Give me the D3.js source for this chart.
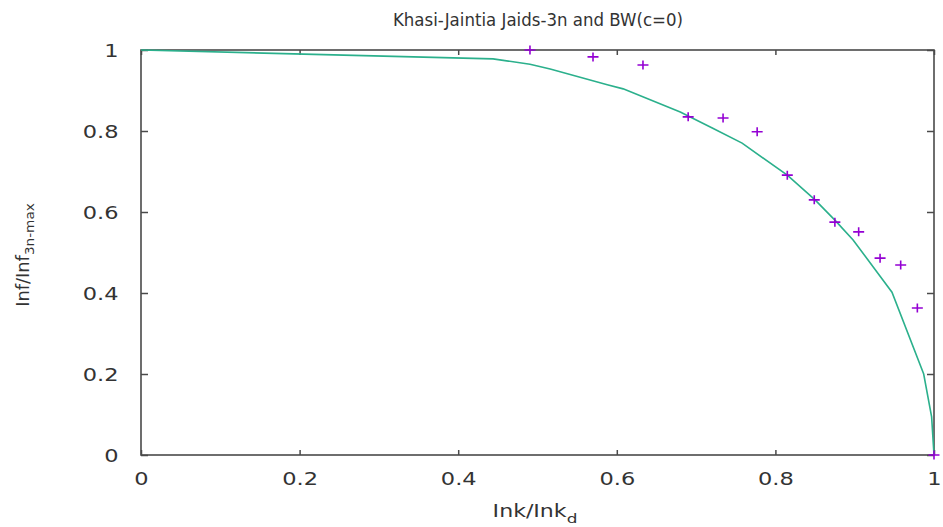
<!DOCTYPE html>
<html>
<head>
<meta charset="utf-8">
<script src="https://cdn.jsdelivr.net/npm/d3@7"></script>
<style>
  body { margin: 0; background: #fff; }
  text { font-family: "DejaVu Sans", sans-serif; fill: #333; }
</style>
</head>
<body>
<div id="chart"></div>
<script>
// curve (BW, c=0)
const lineX = [0, 0.444, 0.4905, 0.516, 0.588, 0.608, 0.680, 0.721, 0.758, 0.815, 0.850, 0.875, 0.898, 0.947, 0.987, 0.997, 1.0];
const lineY = [1, 0.978, 0.965, 0.953, 0.914, 0.904, 0.847, 0.807, 0.770, 0.691, 0.630, 0.580, 0.531, 0.402, 0.200, 0.094, 0.0];

// Jaids-3n points
const ptX = [0.4905, 0.570, 0.633, 0.690, 0.734, 0.777, 0.815, 0.849, 0.875, 0.905, 0.932, 0.958, 0.979, 1.0];
const ptY = [1.0, 0.983, 0.963, 0.835, 0.832, 0.798, 0.691, 0.630, 0.575, 0.551, 0.486, 0.469, 0.363, 0.0];

const xTicks = [0, 0.2, 0.4, 0.6, 0.8, 1];
const yTicks = [0, 0.2, 0.4, 0.6, 0.8, 1];

// set the dimensions and margins of the graph
const margin = {top: 50, right: 9, bottom: 72, left: 141},
    width = 943 - margin.left - margin.right,
    height = 527 - margin.top - margin.bottom;

const svgRoot = d3.select("#chart")
    .append("svg")
    .attr("width", 943)
    .attr("height", 527);

const svg = svgRoot.append("g")
    .attr("transform", `translate(${margin.left},${margin.top})`);

const x = d3.scaleLinear().domain([0, 1]).range([0, width]);
const y = d3.scaleLinear().domain([0, 1]).range([height, 0]);

const fmt = d => String(d);
const axisCol = "#4a4a4a";

// axes (ticks point inward, mirrored on top/right)
const xAxis = svg.append("g")
    .attr("transform", `translate(0,${height})`)
    .call(d3.axisBottom(x).tickValues(xTicks).tickSize(-5).tickPadding(17).tickFormat(fmt));
const xTop = svg.append("g")
    .call(d3.axisTop(x).tickValues(xTicks).tickSize(-5).tickFormat(""));
const yAxis = svg.append("g")
    .call(d3.axisLeft(y).tickValues(yTicks).tickSize(-7).tickPadding(20).tickFormat(fmt));
const yRight = svg.append("g")
    .attr("transform", `translate(${width},0)`)
    .call(d3.axisRight(y).tickValues(yTicks).tickSize(-7).tickFormat(""));

[xAxis, xTop, yAxis, yRight].forEach(a => {
  a.select(".domain").remove();
  a.selectAll("line").attr("stroke", axisCol).attr("stroke-width", 1.5);
  a.selectAll("text")
    .style("font-size", "18px")
    .attr("fill", "#3a3a3a");
});
xAxis.selectAll("text").attr("transform", "scale(1.25,1)");
yAxis.selectAll("text").attr("transform", "scale(1.25,1)").attr("x", -18).attr("dy", "0.36em");

// border
svg.append("rect")
    .attr("x", 0).attr("y", 0)
    .attr("width", width).attr("height", height)
    .attr("fill", "none")
    .attr("stroke", axisCol)
    .attr("stroke-width", 1.6);

// the line
const lineData = lineX.map((v, i) => ({x: v, y: lineY[i]}));
const line = d3.line().x(d => x(d.x)).y(d => y(d.y));
svg.append("path")
    .datum(lineData)
    .attr("d", line)
    .attr("fill", "none")
    .attr("stroke", "#2bb08c")
    .attr("stroke-width", 1.6);

// the crosses
const ptData = ptX.map((v, i) => ({x: v, y: ptY[i]}));
svg.selectAll("myPoints")
    .data(ptData)
    .join("path")
    .attr("d", d => {
      const cx = x(d.x), cy = y(d.y);
      return `M${cx - 5.5},${cy}H${cx + 5.5}M${cx},${cy - 4.5}V${cy + 4.5}`;
    })
    .attr("stroke", "#9400d3")
    .attr("stroke-width", 1.6)
    .attr("fill", "none");

// title
svgRoot.append("text")
    .attr("text-anchor", "middle")
    .attr("transform", "translate(538,26) scale(0.95,1)")
    .style("font-size", "17.5px")
    .attr("fill", "#3a3a3a")
    .text("Khasi-Jaintia Jaids-3n and BW(c=0)");

// x label
const xl = svgRoot.append("text")
    .attr("text-anchor", "middle")
    .attr("transform", "translate(535,517) scale(1.3,1)")
    .style("font-size", "17px");
xl.append("tspan").text("Ink/Ink");
xl.append("tspan").attr("dy", 6).style("font-size", "13px").text("d");

// y label
const yl = svgRoot.append("text")
    .attr("text-anchor", "middle")
    .attr("transform", "translate(29,255) rotate(-90) scale(1.05,1)")
    .style("font-size", "17px");
yl.append("tspan").text("Inf/Inf");
yl.append("tspan").attr("dy", 5).style("font-size", "13px").text("3n-max");
</script>
</body>
</html>
